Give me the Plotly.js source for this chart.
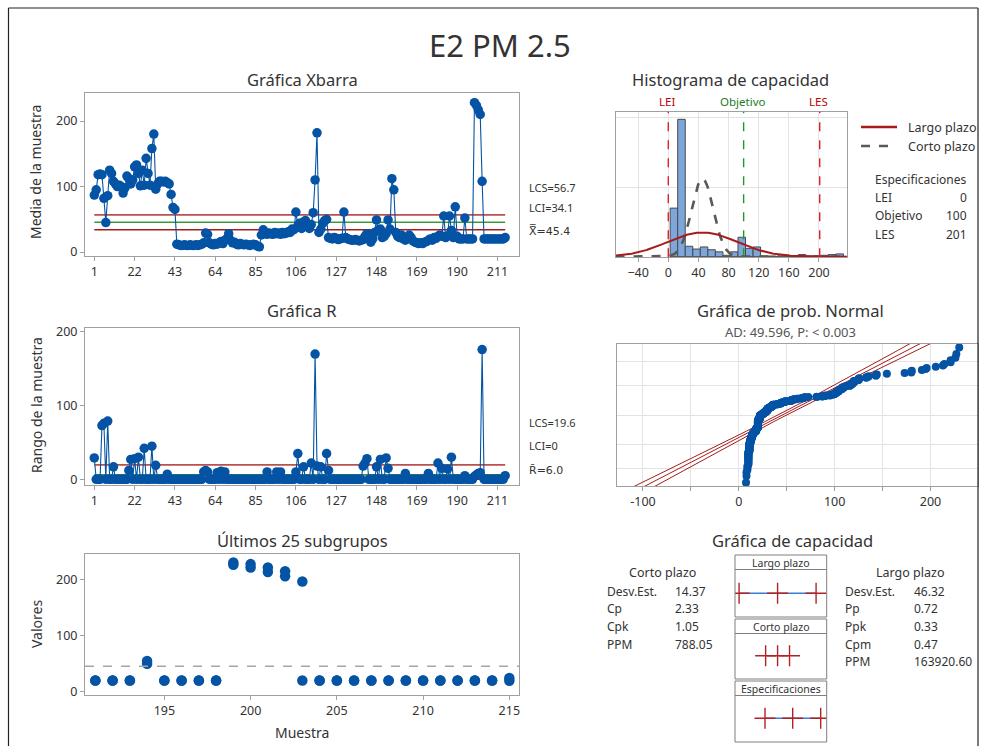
<!DOCTYPE html>
<html><head><meta charset="utf-8">
<script src="https://cdn.plot.ly/plotly-3.0.1.min.js"></script>
<style>html,body{margin:0;padding:0;background:#fff}#chart{width:985px;height:746px}</style>
</head><body><div id="chart"></div>
<script>
// ---------------- DATA ----------------
const xbarMeans = [
 87,95,118,119,118,82,45,86,125,120,
 108,104,100,102,100,90,98,116,112,104,
 110,130,133,120,101,125,102,143,120,102,
 158,180,96,104,108,108,107,108,106,104,
 88,68,65,12,11,10,10,11,10,10,
 11,10,10,11,10,11,12,14,29,27,
 14,12,11,13,12,14,16,13,18,20,
 28,18,14,15,12,11,13,12,11,12,
 11,10,11,12,11,9,8,26,34,30,
 27,29,28,27,30,28,29,27,30,28,
 29,31,30,35,34,61,40,44,36,46,
 48,40,36,42,60,110,182,30,35,44,
 48,50,22,21,20,22,21,19,20,21,
 61,22,20,19,18,18,19,18,17,18,
 19,24,28,22,15,20,30,49,34,35,
 22,24,28,49,35,112,95,30,24,22,
 26,20,18,21,26,22,17,15,14,13,
 14,13,15,16,18,20,18,22,21,24,
 26,24,55,22,25,55,33,22,69,24,
 20,20,20,52,20,20,20,20,228,224,
 217,210,108,20,20,20,20,20,20,20,
 20,20,20,20,22];
const subgroupRanges = [
 29,0,0,0,73,76,0,79,0,0,
 17,0,0,0,0,0,0,0,12,27,
 0,28,0,30,0,0,42,0,0,0,
 45,0,19,0,0,0,0,0,7,0,
 0,0,0,0,0,0,0,0,0,0,
 0,0,0,0,0,0,0,10,12,10,
 0,0,0,0,9,0,11,0,10,0,
 0,0,0,0,0,0,0,0,0,0,
 0,0,0,0,0,0,0,0,0,0,
 10,0,0,0,0,10,0,10,0,0,
 0,0,0,0,0,10,35,0,0,17,
 0,0,0,22,0,170,18,0,17,0,
 0,35,12,0,0,0,0,0,0,0,
 0,0,0,0,0,0,0,0,0,0,
 18,22,28,0,0,0,0,17,0,27,
 0,0,29,15,0,0,0,0,0,0,
 0,0,8,0,0,0,0,0,0,0,
 0,0,0,0,8,0,0,0,0,22,
 0,15,0,0,14,0,30,0,0,0,
 0,0,0,5,0,0,0,0,4,6,
 8,9,176,0,0,0,0,0,0,0,
 0,0,0,0,5];
const xbarTickLabels = [1,22,43,64,85,106,127,148,169,190,211];
const last25Ticks = [195,200,205,210,215];
const histBinCenters = [7.5,17.5,27.5,37.5,47.5,57.5,67.5,77.5,87.5,97.5,107.5,117.5,127.5,137.5,147.5,157.5,167.5,177.5,187.5,197.5,207.5,217.5,227.5];
const histCounts     = [70,198,15,11,14,10,7,2,7,28,12,14,1,1,0,1,0,3,1,1,2,3,4];
const histTicks = [-40,0,40,80,120,160,200];
const xbarLimits = {LCS:56.7, CL:45.4, LCI:34.1};
const rLimits = {LCS:19.6, CL:6.0, LCI:0};
const specs = {LEI:0, Objetivo:100, LES:201};
const processMean = 45.4, sdShort = 14.37, sdLong = 46.32;
const probGridPct = [1,10,50,90,99];
const probTicks = [-100,-50,0,50,100,150,200];
const shortStats = [["Desv.Est.","14.37"],["Cp","2.33"],["Cpk","1.05"],["PPM","788.05"]];
const longStats = [["Desv.Est.","46.32"],["Pp","0.72"],["Ppk","0.33"],["Cpm","0.47"],["PPM","163920.60"]];
const capRows = ["Especificaciones","Corto plazo","Largo plazo"];

// ---------------- HELPERS ----------------
const W=985,H=746;
const px=x=>x/W, py=y=>1-y/H;
const BLUE='#0453A5', RED='#A51C1C', LRED='#B9514E', GREEN='#3C9A3C', TXT='#333333', FONT='Noto Sans, Open Sans, DejaVu Sans, sans-serif';
function invNorm(p){
 const a=[-3.969683028665376e+01,2.209460984245205e+02,-2.759285104469687e+02,1.383577518672690e+02,-3.066479806614716e+01,2.506628277459239e+00];
 const b=[-5.447609879822406e+01,1.615858368580409e+02,-1.556989798598866e+02,6.680131188771972e+01,-1.328068155288572e+01];
 const c=[-7.784894002430293e-03,-3.223964580411365e-01,-2.400758277161838e+00,-2.549671035506765e+00,4.374664141464968e+00,2.938163982698783e+00];
 const d=[7.784695709041462e-03,3.224671290700398e-01,2.445134137142996e+00,3.754408661907416e+00];
 const pl=0.02425,ph=1-pl;let q,r;
 if(p<pl){q=Math.sqrt(-2*Math.log(p));return (((((c[0]*q+c[1])*q+c[2])*q+c[3])*q+c[4])*q+c[5])/((((d[0]*q+d[1])*q+d[2])*q+d[3])*q+1);}
 if(p>ph){q=Math.sqrt(-2*Math.log(1-p));return -(((((c[0]*q+c[1])*q+c[2])*q+c[3])*q+c[4])*q+c[5])/((((d[0]*q+d[1])*q+d[2])*q+d[3])*q+1);}
 q=p-0.5;r=q*q;return (((((a[0]*r+a[1])*r+a[2])*r+a[3])*r+a[4])*r+a[5])*q/(((((b[0]*r+b[1])*r+b[2])*r+b[3])*r+b[4])*r+1);
}
const pdf=(x,m,s)=>Math.exp(-0.5*((x-m)/s)**2)/(s*Math.sqrt(2*Math.PI));

const subgroup = xbarMeans.map((_,i)=>i+1);
// individual observations (subgroup size 2)
const obsX=[], obsY=[];
xbarMeans.forEach((m,i)=>{const r=subgroupRanges[i]; obsX.push(i+1,i+1); obsY.push(m-r/2,m+r/2);});
const nObs = obsY.length;
const firstLast = subgroup.length-24;
const l25x=[], l25y=[];
obsX.forEach((k,i)=>{ if(k>=firstLast){l25x.push(k); l25y.push(obsY[i]);} });
const sorted=[...obsY].sort((a,b)=>a-b);
const probZ = sorted.map((v,i)=>invNorm((i+1-0.3)/(nObs+0.4)));

// fitted line + bands
const zGrid=[]; for(let z=-3.4; z<=3.41; z+=0.1) zGrid.push(z);
const fitX=zGrid.map(z=>processMean+sdLong*z);
const band=z=>1.96*sdLong*Math.sqrt(1/nObs+z*z/(2*(nObs-1)));
const loX=zGrid.map(z=>processMean+sdLong*z-band(z));
const hiX=zGrid.map(z=>processMean+sdLong*z+band(z));

// histogram curves (frequency scale)
const binW = histBinCenters[1]-histBinCenters[0];
const histN = histCounts.reduce((a,b)=>a+b,0);
const curveX=[]; for(let x=-70;x<=240;x+=1.5) curveX.push(x);
const longY=curveX.map(x=>histN*binW*pdf(x,processMean,sdLong));
const shortY=curveX.map(x=>histN*binW*pdf(x,processMean,sdShort));

// ---------------- TRACES ----------------
const traces=[];
const ctrl=(lim,xa,ya,col,w)=>({x:[1,subgroup.length],y:[lim,lim],xaxis:xa,yaxis:ya,mode:'lines',line:{color:col,width:w},hoverinfo:'skip',showlegend:false});
traces.push(ctrl(xbarLimits.LCS,'x','y',LRED,1.6));
traces.push(ctrl(xbarLimits.CL,'x','y',GREEN,1.6));
traces.push(ctrl(xbarLimits.LCI,'x','y',RED,1.6));
traces.push({x:subgroup,y:xbarMeans,xaxis:'x',yaxis:'y',mode:'lines+markers',line:{color:BLUE,width:1.1},marker:{color:BLUE,size:9.5},showlegend:false});
traces.push(ctrl(rLimits.LCS,'x2','y2',LRED,1.6));
traces.push(ctrl(rLimits.CL,'x2','y2',GREEN,1.6));
traces.push(ctrl(rLimits.LCI,'x2','y2',RED,1.6));
traces.push({x:subgroup,y:subgroupRanges,xaxis:'x2',yaxis:'y2',mode:'lines+markers',line:{color:BLUE,width:1.1},marker:{color:BLUE,size:9.5},showlegend:false});
traces.push({x:l25x,y:l25y,xaxis:'x3',yaxis:'y3',mode:'markers',marker:{color:BLUE,size:10.5},showlegend:false});
// histogram
traces.push({type:'bar',x:histBinCenters,y:histCounts,width:binW,xaxis:'x4',yaxis:'y4',marker:{color:'#7DA6DA',line:{color:'#4a4a4a',width:1}},showlegend:false});
traces.push({x:curveX,y:shortY,xaxis:'x4',yaxis:'y4',mode:'lines',line:{color:'#595959',width:2.6,dash:'dash'},showlegend:false});
traces.push({x:curveX,y:longY,xaxis:'x4',yaxis:'y4',mode:'lines',line:{color:'#A51C1C',width:2},showlegend:false});
// probability plot
[loX,fitX,hiX].forEach(xs=>traces.push({x:xs,y:zGrid,xaxis:'x5',yaxis:'y5',mode:'lines',line:{color:'#A51C1C',width:1},showlegend:false}));
traces.push({x:sorted,y:probZ,xaxis:'x5',yaxis:'y5',mode:'markers',marker:{color:BLUE,size:8},showlegend:false});
// capability intervals
const capIntervals = {
 "Largo plazo":[processMean-3*sdLong,processMean,processMean+3*sdLong],
 "Corto plazo":[processMean-3*sdShort,processMean,processMean+3*sdShort],
 "Especificaciones":[specs.LEI,specs.Objetivo,specs.LES]
};
capRows.forEach(row=>{
 const v=capIntervals[row], yi=capRows.indexOf(row);
 if(row!=="Corto plazo") traces.push({x:[v[0],v[2]],y:[yi,yi],xaxis:'x6',yaxis:'y6',mode:'lines',line:{color:'#3B7DD8',width:1.6},showlegend:false});
 traces.push({x:v,y:[yi,yi,yi],xaxis:'x6',yaxis:'y6',mode:'markers',marker:{symbol:'cross-thin',size:15,line:{color:'#B22222',width:1.4}},showlegend:false});
});

// ---------------- LAYOUT ----------------
const base={showline:true,mirror:true,linecolor:'#a0a0a0',linewidth:1,ticks:'outside',ticklen:4,tickcolor:'#a0a0a0',tickfont:{size:12.5,color:TXT,family:FONT},zeroline:false,showgrid:false,fixedrange:true};
const layout={
 width:W,height:H,margin:{l:0,r:0,t:0,b:0},paper_bgcolor:'#fff',plot_bgcolor:'#fff',showlegend:false,
 font:{family:FONT,color:TXT},
 xaxis:{...base,domain:[px(85),px(519)],range:[-3.84,222.2],tickvals:xbarTickLabels,anchor:'y'},
 yaxis:{...base,domain:[py(255.7),py(93.3)],range:[-5.6,242.3],tickvals:[0,100,200],anchor:'x'},
 xaxis2:{...base,domain:[px(85),px(519)],range:[-3.84,222.2],tickvals:xbarTickLabels,anchor:'y2'},
 yaxis2:{...base,domain:[py(485),py(328.3)],range:[-7.7,204.9],tickvals:[0,100,200],anchor:'x2'},
 xaxis3:{...base,domain:[px(85),px(519)],range:[190.4,215.56],tickvals:last25Ticks,anchor:'y3'},
 yaxis3:{...base,domain:[py(695),py(554)],range:[-5.9,245],tickvals:[0,100,200],anchor:'x3'},
 xaxis4:{...base,domain:[px(616),px(847.3)],range:[-69.4,237.6],tickvals:histTicks,showgrid:true,gridcolor:'#e3e3e3',anchor:'y4'},
 yaxis4:{...base,domain:[py(257.3),py(111.7)],range:[-0.9,209],tickvals:[100,200],showticklabels:false,ticks:'',showgrid:true,gridcolor:'#e3e3e3',anchor:'x4'},
 xaxis5:{...base,domain:[px(617.3),px(978.3)],range:[-126.8,249.9],tickvals:probTicks,ticktext:probTicks.map(v=>v%100===0?String(v):''),showgrid:true,gridcolor:'#e3e3e3',anchor:'y5'},
 yaxis5:{...base,domain:[py(486),py(344)],range:[-3.09,3.09],tickvals:probGridPct.map(p=>invNorm(p/100)),showticklabels:false,ticks:'',showgrid:true,gridcolor:'#e3e3e3',anchor:'x5'},
 xaxis6:{domain:[px(735),px(826.7)],range:[-108.3,222.7],visible:false,fixedrange:true,anchor:'y6'},
 yaxis6:{domain:[py(741),py(555)],range:[-0.363,2.613],visible:false,fixedrange:true,anchor:'x6'},
 shapes:[],annotations:[]
};
const S=layout.shapes, A=layout.annotations;
const ann=(text,x,y,o={})=>A.push(Object.assign({text,x:px(x),y:py(y),xref:'paper',yref:'paper',showarrow:false,xanchor:'center',yanchor:'middle',font:{size:12,color:TXT,family:FONT}},o));
// outer frame
S.push({type:'line',xref:'paper',yref:'paper',x0:px(8.5),x1:px(8.5),y0:py(8),y1:py(760),line:{color:'#222',width:1.2}});
S.push({type:'line',xref:'paper',yref:'paper',x0:px(978),x1:px(978),y0:py(8),y1:py(760),line:{color:'#222',width:1.2}});
S.push({type:'line',xref:'paper',yref:'paper',x0:px(8.5),x1:px(978),y0:py(8),y1:py(8),line:{color:'#222',width:1.2}});
// titles
ann('E2 PM 2.5',500,45,{font:{size:31,color:TXT,family:FONT}});
const T16={size:16.5,color:TXT,family:FONT};
ann('Gráfica Xbarra',302,80,{font:T16});
ann('Histograma de capacidad',730,80,{font:T16});
ann('Gráfica R',302,310,{font:T16});
ann('Gráfica de prob. Normal',790,310,{font:T16});
ann('AD: 49.596, P: < 0.003',790,332,{font:{size:13,color:'#555',family:FONT}});
ann('Últimos 25 subgrupos',302,540,{font:T16});
ann('Gráfica de capacidad',792,540,{font:T16});
// axis titles
ann('Media de la muestra',36,172,{textangle:-90,font:{size:14,color:TXT,family:FONT}});
ann('Rango de la muestra',36,405,{textangle:-90,font:{size:14,color:TXT,family:FONT}});
ann('Valores',36,624,{textangle:-90,font:{size:14,color:TXT,family:FONT}});
ann('Muestra',302,732,{font:{size:14,color:TXT,family:FONT}});
// control limit labels
const lab={xanchor:'left',font:{size:11.5,color:TXT,family:'DejaVu Sans, Noto Sans, sans-serif'}};
const lab2={xanchor:'left',font:{size:11,color:TXT,family:FONT}};
ann('LCS='+xbarLimits.LCS,527,188,lab2);
ann('LCI='+xbarLimits.LCI,527,208,lab2);
ann('X\u033F='+xbarLimits.CL,527,231,{xanchor:'left',font:{size:11,color:TXT,family:'DejaVu Sans, sans-serif'}});
ann('LCS='+rLimits.LCS,527,422,lab2);
ann('LCI='+rLimits.LCI,527,446,lab2);
ann('R\u0304='+rLimits.CL.toFixed(1),527,470,{xanchor:'left',font:{size:11,color:TXT,family:'DejaVu Sans, sans-serif'}});
// last 25 mean line
S.push({type:'line',xref:'x3 domain',yref:'y3',x0:0,x1:1,y0:processMean,y1:processMean,line:{color:'#a6a6a6',width:1.5,dash:'dash'}});
// spec lines in histogram
[[specs.LEI,'#E0202A'],[specs.Objetivo,'#23962B'],[specs.LES,'#E0202A']].forEach(([v,c])=>S.push({type:'line',xref:'x4',yref:'y4 domain',x0:v,x1:v,y0:0,y1:1,line:{color:c,width:1.4,dash:'dash'}}));
ann('LEI',667,102,{font:{size:11.5,color:'#C00000',family:FONT}});
ann('Objetivo',742,102,{font:{size:11.5,color:'#1E7B1E',family:FONT}});
ann('LES',818,102,{font:{size:11.5,color:'#C00000',family:FONT}});
// histogram legend
S.push({type:'line',xref:'paper',yref:'paper',x0:px(861),x1:px(897),y0:py(127),y1:py(127),line:{color:'#A51C1C',width:2.5}});
S.push({type:'line',xref:'paper',yref:'paper',x0:px(861),x1:px(897),y0:py(146),y1:py(146),line:{color:'#595959',width:2.5,dash:'dash'}});
ann('Largo plazo',906,127,{xanchor:'left',font:{size:12.5,color:TXT,family:FONT}});
ann('Corto plazo',906,146,{xanchor:'left',font:{size:12.5,color:TXT,family:FONT}});
ann('Especificaciones',873,180,{xanchor:'left',font:{size:12,color:TXT,family:FONT}});
[['LEI',specs.LEI],['Objetivo',specs.Objetivo],['LES',specs.LES]].forEach(([n,v],i)=>{
 ann(n,873,198+18*i,{xanchor:'left',font:{size:12,color:TXT,family:FONT}});
 ann(String(v),969,198+18*i,{xanchor:'right',font:{size:12,color:TXT,family:FONT}});
});
// capability stats
ann('Corto plazo',662,572,{font:{size:12.5,color:TXT,family:FONT}});
shortStats.forEach(([n,v],i)=>{ann(n,605,591+17.7*i,{xanchor:'left'});ann(v,673,591+17.7*i,{xanchor:'left'});});
ann('Largo plazo',910,572,{font:{size:12.5,color:TXT,family:FONT}});
longStats.forEach(([n,v],i)=>{ann(n,843,591+17.7*i,{xanchor:'left'});ann(v,912,591+17.7*i,{xanchor:'left'});});
// capability boxes
[[555,617,'Largo plazo'],[619,679,'Corto plazo'],[681,742,'Especificaciones']].forEach(([t,b,name])=>{
 S.push({type:'rect',xref:'paper',yref:'paper',x0:px(735),x1:px(826.7),y0:py(b),y1:py(t),line:{color:'#7f7f7f',width:1}});
 S.push({type:'line',xref:'paper',yref:'paper',x0:px(735),x1:px(826.7),y0:py(t+14.5),y1:py(t+14.5),line:{color:'#7f7f7f',width:1}});
 ann(name,781,t+7.5,{font:{size:10.5,color:TXT,family:FONT}});
});
Plotly.newPlot('chart',traces,layout,{staticPlot:true,displayModeBar:false});
</script></body></html>
